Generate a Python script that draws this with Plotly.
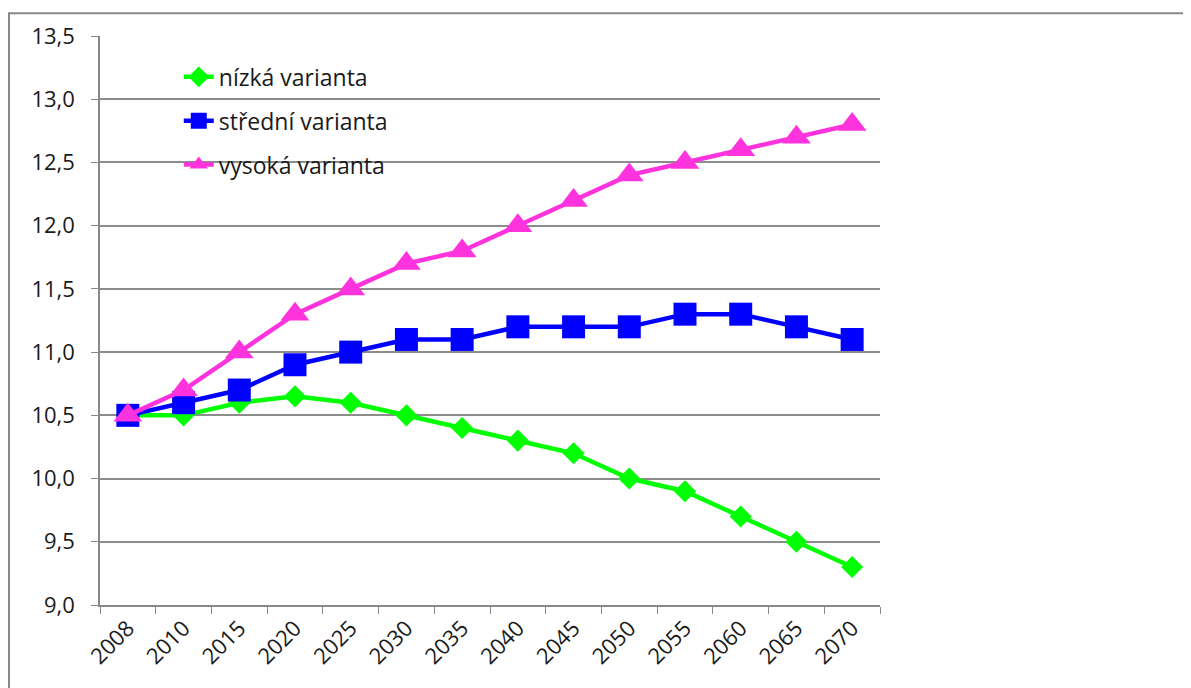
import plotly.graph_objects as go

years = ["2008", "2010", "2015", "2020", "2025", "2030", "2035", "2040",
         "2045", "2050", "2055", "2060", "2065", "2070"]
nizka = [10.5, 10.5, 10.6, 10.65, 10.6, 10.5, 10.4, 10.3, 10.2, 10.0, 9.9, 9.7, 9.5, 9.3]
stredni = [10.5, 10.6, 10.7, 10.9, 11.0, 11.1, 11.1, 11.2, 11.2, 11.2, 11.3, 11.3, 11.2, 11.1]
vysoka = [10.5, 10.7, 11.0, 11.3, 11.5, 11.7, 11.8, 12.0, 12.2, 12.4, 12.5, 12.6, 12.7, 12.8]
y_ticks = [9.0, 9.5, 10.0, 10.5, 11.0, 11.5, 12.0, 12.5, 13.0, 13.5]
y_labels = [f"{v:.1f}".replace(".", ",") for v in y_ticks]

FONT = "Open Sans"
TXT = "#1a1a1a"
fig = go.Figure()
fig.add_trace(go.Scatter(x=years, y=nizka, name="nízká varianta", mode="lines+markers",
                         line=dict(color="#00FF00", width=4.5),
                         marker=dict(symbol="diamond", size=17, color="#00FF00"),
                         legendgroup="a"))
fig.add_trace(go.Scatter(x=years, y=stredni, name="střední varianta", mode="lines+markers",
                         line=dict(color="#0000FF", width=4.5),
                         marker=dict(symbol="square", size=23, color="#0000FF"),
                         legendgroup="b"))
fig.add_trace(go.Scatter(x=years, y=vysoka, name="vysoká varianta", mode="lines+markers",
                         line=dict(color="#FF33DD", width=4.5),
                         marker=dict(symbol="triangle-up", size=25, color="#FF33DD"),
                         legendgroup="c"))

fig.update_layout(
    width=1183, height=680,
    margin=dict(l=92, r=311, t=24, b=83),
    paper_bgcolor="white", plot_bgcolor="white",
    font=dict(family=FONT, size=22, color=TXT),
    showlegend=True,
    legend=dict(x=0.101, y=0.966, xanchor="left", yanchor="top",
                bgcolor="rgba(0,0,0,0)", font=dict(family=FONT, size=23, color=TXT),
                traceorder="grouped", tracegroupgap=11),
    xaxis=dict(type="category", range=[-0.5, 13.5], showgrid=False,
               showline=True, linecolor="#888888", linewidth=1.5,
               ticks="outside", tickson="boundaries", ticklen=7, tickcolor="#888888",
               tickangle=-45, tickfont=dict(family=FONT, size=22, color=TXT)),
    yaxis=dict(range=[9.0, 13.5], tickvals=y_ticks, ticktext=y_labels,
               showgrid=True, gridcolor="#8c8c8c", gridwidth=1.5,
               showline=True, linecolor="#888888", linewidth=1.5,
               ticks="outside", ticklen=7, tickcolor="#888888", zeroline=False,
               ticklabelstandoff=12,
               tickfont=dict(family=FONT, size=22, color=TXT)),
    shapes=[dict(type="rect", xref="paper", yref="paper",
                 x0=-0.1167, x1=1.395, y0=-0.3, y1=1.040,
                 line=dict(color="#888888", width=2), fillcolor="rgba(0,0,0,0)",
                 layer="below")],
)

fig.write_html("out.html")
